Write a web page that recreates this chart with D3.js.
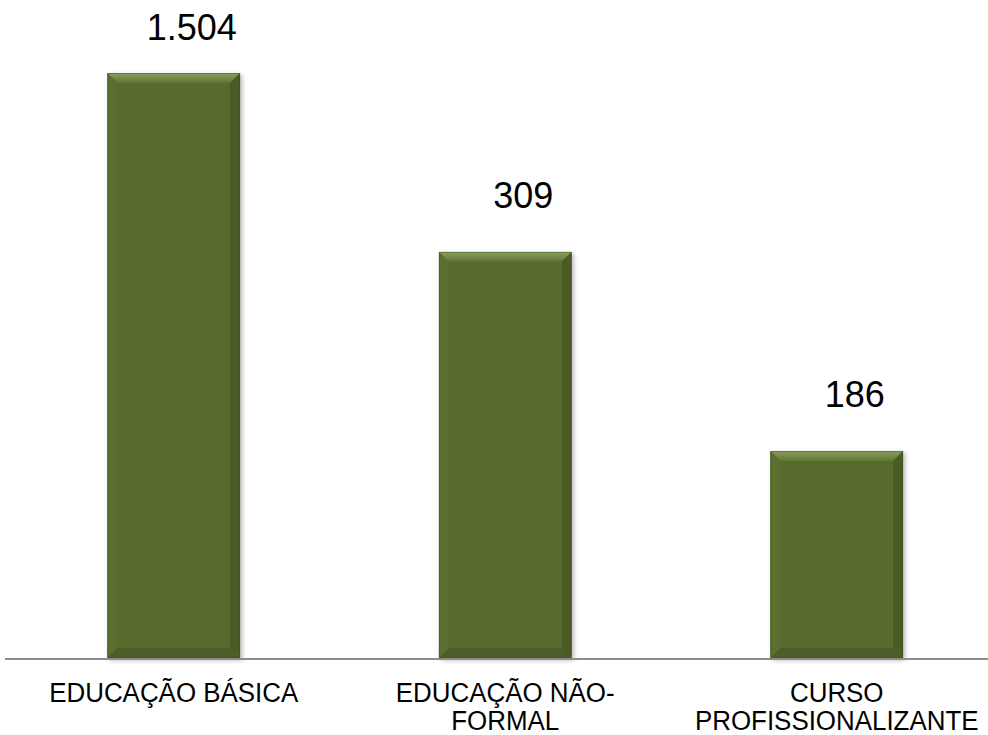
<!DOCTYPE html>
<html lang="pt">

<head>
  <meta charset="UTF-8">
  <script src="https://cdn.jsdelivr.net/npm/d3@7"></script>
  <title>Educação</title>
  <style>
    body {
      margin: 0;
      background: #fff;
    }

    text {
      font-family: "Liberation Sans", Arial, sans-serif;
      fill: #000;
    }
  </style>
</head>

<body>
  <div class="fig"></div>
  <script>
    /*------------------- data --------------------*/
    // category labels (split in lines as in the picture)
    const categories = ["EDUCAÇÃO BÁSICA", "EDUCAÇÃO NÃO-FORMAL", "CURSO PROFISSIONALIZANTE"];
    const categoryLines = [["EDUCAÇÃO BÁSICA"], ["EDUCAÇÃO NÃO-", "FORMAL"], ["CURSO", "PROFISSIONALIZANTE"]];
    // bar heights as drawn (read on a linear axis topped by the first bar)
    const barValues = [1504, 1044, 532];
    // value labels as printed above the bars
    const valueLabels = ["1.504", "309", "186"];

    /*------------------- window --------------------*/
    const width = 988;
    const height = 735;
    const baseline = 658;

    const svg = d3.select(".fig").append("svg")
      .attr("width", width)
      .attr("height", height);

    const x = d3.scaleBand()
      .domain(categories)
      .range([8, 1002.5])
      .paddingInner(0.6)
      .paddingOuter(0.3);

    const y = d3.scaleLinear()
      .domain([0, 1504])
      .range([baseline, 73]);

    /*------------------- shadow filter --------------------*/
    const defs = svg.append("defs");
    const shadow = defs.append("filter")
      .attr("id", "shadow")
      .attr("x", "-20%").attr("y", "-20%")
      .attr("width", "140%").attr("height", "140%");
    shadow.append("feDropShadow")
      .attr("dx", 2).attr("dy", 2)
      .attr("stdDeviation", 2.5)
      .attr("flood-color", "#000")
      .attr("flood-opacity", 0.3);

    const topGrad = defs.append("linearGradient")
      .attr("id", "topGrad")
      .attr("x1", 0).attr("y1", 0).attr("x2", 0).attr("y2", 1);
    topGrad.append("stop").attr("offset", "0%").attr("stop-color", "#8aa25c");
    topGrad.append("stop").attr("offset", "100%").attr("stop-color", "#607434");

    /*------------------- bars --------------------*/
    const bevel = 10;
    const bars = svg.selectAll("g.bar")
      .data(categories)
      .enter()
      .append("g")
      .attr("class", "bar");

    bars.each(function (d, i) {
      const g = d3.select(this);
      const x0 = x(d), x1 = x(d) + x.bandwidth();
      const y0 = y(barValues[i]), y1 = y(0);
      const b = bevel;

      g.append("rect")
        .attr("x", x0).attr("y", y0)
        .attr("width", x1 - x0).attr("height", y1 - y0)
        .attr("fill", "#586b2e")
        .attr("filter", "url(#shadow)");
      // top face
      g.append("path")
        .attr("d", `M${x0},${y0}L${x1},${y0}L${x1 - b},${y0 + b}L${x0 + b},${y0 + b}Z`)
        .attr("fill", "url(#topGrad)");
      // left face
      g.append("path")
        .attr("d", `M${x0},${y0}L${x0 + b},${y0 + b}L${x0 + b},${y1 - b}L${x0},${y1}Z`)
        .attr("fill", "#5b6f30");
      // right face
      g.append("path")
        .attr("d", `M${x1},${y0}L${x1},${y1}L${x1 - b},${y1 - b}L${x1 - b},${y0 + b}Z`)
        .attr("fill", "#4a5b26");
      // bottom face
      g.append("path")
        .attr("d", `M${x0},${y1}L${x1},${y1}L${x1 - b},${y1 - b}L${x0 + b},${y1 - b}Z`)
        .attr("fill", "#4d5e28");
      // inner face
      g.append("rect")
        .attr("x", x0 + b).attr("y", y0 + b)
        .attr("width", x1 - x0 - 2 * b).attr("height", y1 - y0 - 2 * b)
        .attr("fill", "#586b2e");
      // thin outline
      g.append("rect")
        .attr("x", x0 + 0.5).attr("y", y0 + 0.5)
        .attr("width", x1 - x0 - 1).attr("height", y1 - y0 - 1)
        .attr("fill", "none")
        .attr("stroke", "#3f4e1e")
        .attr("stroke-opacity", 0.5);
    });

    /*------------------- value labels --------------------*/
    svg.selectAll("text.value")
      .data(categories)
      .enter()
      .append("text")
      .attr("class", "value")
      .attr("x", d => x(d) + x.bandwidth() / 2 + 18)
      .attr("y", (d, i) => Math.max(40, y(barValues[i]) - 44))
      .attr("text-anchor", "middle")
      .style("font-size", "36px")
      .text((d, i) => valueLabels[i]);

    /*------------------- axis --------------------*/
    svg.append("line")
      .attr("x1", 5).attr("x2", width)
      .attr("y1", baseline + 1).attr("y2", baseline + 1)
      .attr("stroke", "#8c8c8c")
      .attr("stroke-width", 2);

    // category labels, slightly condensed like the original
    const catText = svg.selectAll("text.cat")
      .data(categories)
      .enter()
      .append("text")
      .attr("class", "cat")
      .attr("text-anchor", "middle")
      .style("font-size", "27px")
      .attr("x", d => x(d) + x.bandwidth() / 2)
      .attr("y", 702)
      .attr("transform", d => {
        const cx = x(d) + x.bandwidth() / 2;
        return `translate(${cx},0) scale(0.96,1) translate(${-cx},0)`;
      });

    catText.selectAll("tspan")
      .data((d, i) => categoryLines[i])
      .enter()
      .append("tspan")
      .attr("x", function () { return d3.select(this.parentNode).attr("x"); })
      .attr("dy", (d, j) => j === 0 ? 0 : 28)
      .text(d => d);
  </script>
</body>

</html>
